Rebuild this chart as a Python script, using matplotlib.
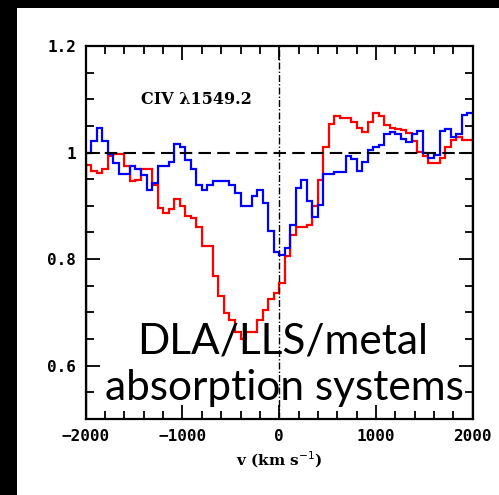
import numpy as np
import matplotlib.pyplot as plt
from matplotlib.patches import Rectangle
from matplotlib.ticker import MultipleLocator

# velocity bins (km/s) and normalised flux for the two composite spectra
v_edges = np.linspace(-2000, 2000, 71)

flux_blue = [1.00, 1.021, 1.046, 1.021, 0.998, 0.98, 0.96, 0.96, 0.975, 0.97,
             0.958, 0.93, 0.943, 0.974, 0.974, 0.983, 1.016, 1.011, 0.986, 0.97,
             0.94, 0.93, 0.94, 0.946, 0.946, 0.946, 0.94, 0.925, 0.899, 0.899,
             0.919, 0.929, 0.906, 0.852, 0.814, 0.808, 0.82, 0.864, 0.933, 0.949,
             0.91, 0.879, 0.902, 0.96, 0.96, 0.964, 0.964, 0.993, 0.987, 0.965,
             0.983, 1.005, 1.011, 1.014, 1.035, 1.039, 1.035, 1.025, 1.019, 1.035,
             1.04, 1.0, 0.99, 0.995, 1.04, 1.044, 1.03, 1.035, 1.071, 1.075]

flux_red = [0.977, 0.966, 0.961, 0.97, 0.993, 0.998, 0.998, 0.974, 0.946, 0.948,
            0.969, 0.969, 0.939, 0.896, 0.886, 0.895, 0.913, 0.90, 0.881, 0.877,
            0.861, 0.825, 0.825, 0.769, 0.731, 0.699, 0.685, 0.664, 0.65, 0.664,
            0.664, 0.686, 0.705, 0.725, 0.736, 0.755, 0.805, 0.846, 0.86, 0.86,
            0.864, 0.899, 0.949, 1.011, 1.054, 1.069, 1.064, 1.064, 1.058, 1.046,
            1.039, 1.058, 1.074, 1.068, 1.052, 1.046, 1.045, 1.042, 1.036, 1.021,
            1.002, 0.993, 0.98, 0.98, 0.99, 1.01, 1.024, 1.03, 1.024, 1.024]

W, H = 499, 495
fig = plt.figure(figsize=(W / 100, H / 100), dpi=100, facecolor='black')
# white slide area
fig.patches.append(Rectangle((17 / W, 0), 1 - 17 / W, 1 - 8 / H,
                             transform=fig.transFigure, facecolor='white',
                             edgecolor='none', zorder=-5))

ax = fig.add_axes([85.7 / W, 1 - 419 / H, 387 / W, 373 / H])
ax.set_facecolor('white')

ax.stairs(flux_red, v_edges, color='#ff0000', lw=1.6)
ax.stairs(flux_blue, v_edges, color='#0000ff', lw=1.6)

ax.axhline(1.0, color='black', lw=1.5, ls=(0, (6, 3)))
ax.axvline(0, color='black', lw=1.0, ls=(0, (5, 1.5, 1, 1.5)))

ax.set_xlim(-2000, 2000)
ax.set_ylim(0.5, 1.2)

ax.xaxis.set_minor_locator(MultipleLocator(200))
ax.yaxis.set_minor_locator(MultipleLocator(0.05))
ax.set_yticks([0.6, 0.8, 1.0, 1.2])
ax.set_yticklabels(['0.6', '0.8', '1', '1.2'])
ax.set_xticks([-2000, -1000, 0, 1000, 2000])
ax.set_xticklabels(['\u22122000', '\u22121000', '0', '1000', '2000'])

ax.tick_params(which='both', direction='in', top=True, right=True, width=1.3,
               labelsize=11.5, colors='black')
ax.tick_params(which='major', length=10, pad=7)
ax.tick_params(which='minor', length=5.5)
for lab in ax.get_xticklabels() + ax.get_yticklabels():
    lab.set_family('DejaVu Sans Mono')
    lab.set_fontweight('bold')
for s in ax.spines.values():
    s.set_linewidth(1.6)

ax.set_xlabel('v (km s$^{-1}$)', fontsize=11, family='DejaVu Serif',
              fontweight='bold', labelpad=4)

ax.text(-860, 1.099, 'CIV \u03bb1549.2', fontsize=11.5, family='DejaVu Serif',
        fontweight='bold', ha='center', va='center')

fig.text(283 / W, 1 - 353 / H, 'DLA/LLS/metal', fontsize=30.5, family='Lato',
         ha='center', va='baseline', color='black')
fig.text(284 / W, 1 - 400 / H, 'absorption systems', fontsize=30.5, family='Lato',
         ha='center', va='baseline', color='black')

fig.savefig('out.png', dpi=100, facecolor=fig.get_facecolor())
